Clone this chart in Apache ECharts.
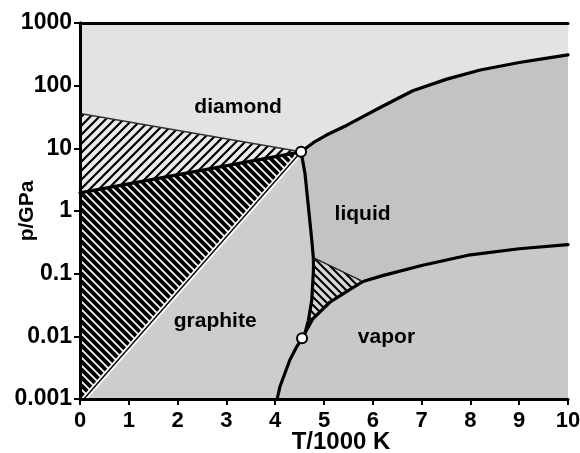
<!DOCTYPE html>
<html><head><meta charset="utf-8">
<script src="https://cdn.jsdelivr.net/npm/echarts@6/dist/echarts.min.js"></script>
<style>html,body{margin:0;padding:0;background:#fff}#c{width:580px;height:453px}</style>
</head><body><div id="c"></div>
<script>
// ---- data (T in 1000 K, p in GPa) ----
const xTickLabels = ['0','1','2','3','4','5','6','7','8','9','10'];
const yTickLabels = ['0.001','0.01','0.1','1','10','100','1000'];
const triplePoints = [[4.53, 8.8], [4.55, 0.0093]];
const graphiteDiamondLine = [[0, 1.95], [4.53, 8.8]];
const diamondMetastableLine = [[0, 36], [4.53, 8.8]];
const graphiteMetastableLine = [[0.08, 0.001], [4.53, 8.8]];
const meltingLine = [[4.53, 8.8], [4.61, 4.0], [4.68, 1.17], [4.75, 0.34], [4.78, 0.186], [4.785, 0.13], [4.78, 0.1], [4.75, 0.038], [4.68, 0.018], [4.61, 0.0112], [4.55, 0.0093]];
const vaporLineLow = [[4.04, 0.001], [4.1, 0.0016], [4.3, 0.0042], [4.44, 0.0068], [4.55, 0.0093]];
const vaporLineHigh = [[4.55, 0.0093], [4.77, 0.019], [5.12, 0.035], [5.47, 0.052], [5.8, 0.075], [6.2, 0.093], [7, 0.135], [8, 0.2], [9, 0.25], [10, 0.29]];
const liquidDiamondLine = [[4.53, 8.8], [4.78, 12.3], [5.05, 16.3], [5.47, 23.4], [6.2, 47], [6.82, 83], [7.5, 126], [8.2, 178], [9, 234], [9.57, 275], [10, 310]];
const liquidMetastableEdge = [[4.78, 0.18], [5.75, 0.078]];
const regionNames = ['diamond', 'liquid', 'graphite', 'vapor'];
const regionLabelAt = [[3.24, 44.8], [5.79, 0.88], [2.77, 0.0173], [6.28, 0.0096]];
const pMin = 0.001, pMax = 1000, tMin = 0, tMax = 10;

// ---- polygons built from the curves ----
const rev = a => a.slice().reverse();
const diamondPoly = [[tMin, pMax], [tMax, pMax]].concat(rev(liquidDiamondLine), [diamondMetastableLine[0]]);
const upperHatchPoly = [diamondMetastableLine[0], diamondMetastableLine[1], graphiteDiamondLine[0]];
const lowerHatchPoly = [graphiteDiamondLine[0], graphiteDiamondLine[1], graphiteMetastableLine[0], [tMin, pMin]];
const graphitePoly = graphiteMetastableLine.concat(meltingLine.slice(1), rev(vaporLineLow).slice(1));
const liquidPoly = meltingLine.concat(vaporLineHigh.slice(1), rev(liquidDiamondLine));
const vaporPoly = vaporLineLow.concat(vaporLineHigh.slice(1), [[tMax, pMin]]);
const smallHatchPoly = [liquidMetastableEdge[0], liquidMetastableEdge[1], [5.47, 0.052], [5.12, 0.035], [4.77, 0.019], [4.68, 0.018], [4.75, 0.038], [4.78, 0.1]];

function stripes(size, width, bg, dir) {
  const c = document.createElement('canvas');
  c.width = size; c.height = size;
  const g = c.getContext('2d');
  g.fillStyle = bg; g.fillRect(0, 0, size, size);
  g.strokeStyle = '#000'; g.lineWidth = width; g.lineCap = 'square';
  g.beginPath();
  for (let k = -1; k <= 1; k++) {
    if (dir === '/') { g.moveTo(k * size, size); g.lineTo(k * size + size, 0); }
    else { g.moveTo(k * size, 0); g.lineTo(k * size + size, size); }
  }
  g.stroke();
  return { image: c, repeat: 'repeat' };
}

function polySeries(points, fill, z) {
  return {
    type: 'custom', coordinateSystem: 'cartesian2d', z: z, silent: true, clip: true,
    data: [[5, 1]],
    renderItem: function (params, api) {
      return { type: 'polygon', shape: { points: points.map(p => api.coord(p)) }, style: { fill: fill, stroke: null } };
    }
  };
}
function lineSeries(data, color, width, z) {
  return { type: 'line', data: data, z: z, silent: true, showSymbol: false, symbol: 'none',
    lineStyle: { color: color, width: width, cap: 'round', join: 'round' } };
}

const chart = echarts.init(document.getElementById('c'), null, { renderer: 'canvas' });
const font = 'Liberation Sans';
const axisBase = { lineStyle: { color: '#000', width: 3 } };
chart.setOption({
  animation: false,
  backgroundColor: '#fff',
  grid: { left: 80, right: 12, top: 23, bottom: 54, containLabel: false, outerBoundsMode: 'none' },
  xAxis: [{
    type: 'value', min: tMin, max: tMax, interval: 1, z: 10,
    axisLine: axisBase, axisTick: { length: 6, lineStyle: { color: '#000', width: 2 } },
    splitLine: { show: false },
    axisLabel: { margin: 11, color: '#000', fontFamily: font, fontWeight: 'bold', fontSize: 22,
      formatter: v => xTickLabels[Math.round(v)] },
    name: 'T/1000 K', nameLocation: 'middle', nameGap: 31, nameMoveOverlap: false,
    nameTextStyle: { color: '#000', fontFamily: font, fontWeight: 'bold', fontSize: 24, padding: [0, 0, 0, 34] }
  }, {
    type: 'value', position: 'top', min: 0, max: 1, z: 10,
    axisLine: axisBase, axisTick: { show: false }, axisLabel: { show: false }, splitLine: { show: false }
  }],
  yAxis: [{
    type: 'log', logBase: 10, min: pMin, max: pMax, z: 10,
    axisLine: axisBase, axisTick: { length: 6, lineStyle: { color: '#000', width: 2 } },
    splitLine: { show: false }, minorTick: { show: false },
    axisLabel: { margin: 8, color: '#000', fontFamily: font, fontWeight: 'bold', fontSize: 23,
      formatter: v => yTickLabels[Math.round(Math.log10(v)) + 3] },
    name: 'p/GPa', nameLocation: 'middle', nameGap: 42, nameMoveOverlap: false,
    nameTextStyle: { color: '#000', fontFamily: font, fontWeight: 'bold', fontSize: 21 }
  }, {
    type: 'value', position: 'right', min: 0, max: 1, z: 10,
    axisLine: axisBase, axisTick: { show: false }, axisLabel: { show: false }, splitLine: { show: false }
  }],
  series: [
    polySeries(diamondPoly, '#e3e3e3', 1),
    polySeries(graphitePoly, '#cdcdcd', 1),
    polySeries(liquidPoly, '#c3c3c3', 1),
    polySeries(vaporPoly, '#c8c8c8', 1),
    polySeries(upperHatchPoly, stripes(9, 2.2, '#ececec', '/'), 2),
    polySeries(lowerHatchPoly, stripes(8, 3.8, '#f4f4f4', '\\'), 2),
    polySeries(smallHatchPoly, stripes(8, 2, '#d6d6d6', '\\'), 2),
    lineSeries(diamondMetastableLine, '#333', 1.5, 4),
    lineSeries(graphiteMetastableLine, '#fff', 5, 4),
    lineSeries(graphiteMetastableLine, '#111', 1.6, 4),
    lineSeries(liquidMetastableEdge, '#222', 1.5, 4),
    lineSeries(graphiteDiamondLine, '#000', 3.2, 5),
    lineSeries(meltingLine, '#000', 3.2, 5),
    lineSeries(vaporLineLow, '#000', 3.2, 5),
    lineSeries(vaporLineHigh, '#000', 3.2, 5),
    lineSeries(liquidDiamondLine, '#000', 3.2, 5),
    { type: 'scatter', data: triplePoints, z: 6, silent: true, symbol: 'circle', symbolSize: 10,
      itemStyle: { color: '#fff', borderColor: '#000', borderWidth: 2, opacity: 1 } },
    { type: 'scatter', z: 7, silent: true, symbolSize: 0, itemStyle: { opacity: 1 },
      data: regionNames.map((n, i) => ({ name: n, value: regionLabelAt[i] })),
      label: { show: true, position: 'inside', formatter: '{b}', color: '#000', opacity: 1,
        fontFamily: font, fontWeight: 'bold', fontSize: 21 } }
  ]
});
</script></body></html>
